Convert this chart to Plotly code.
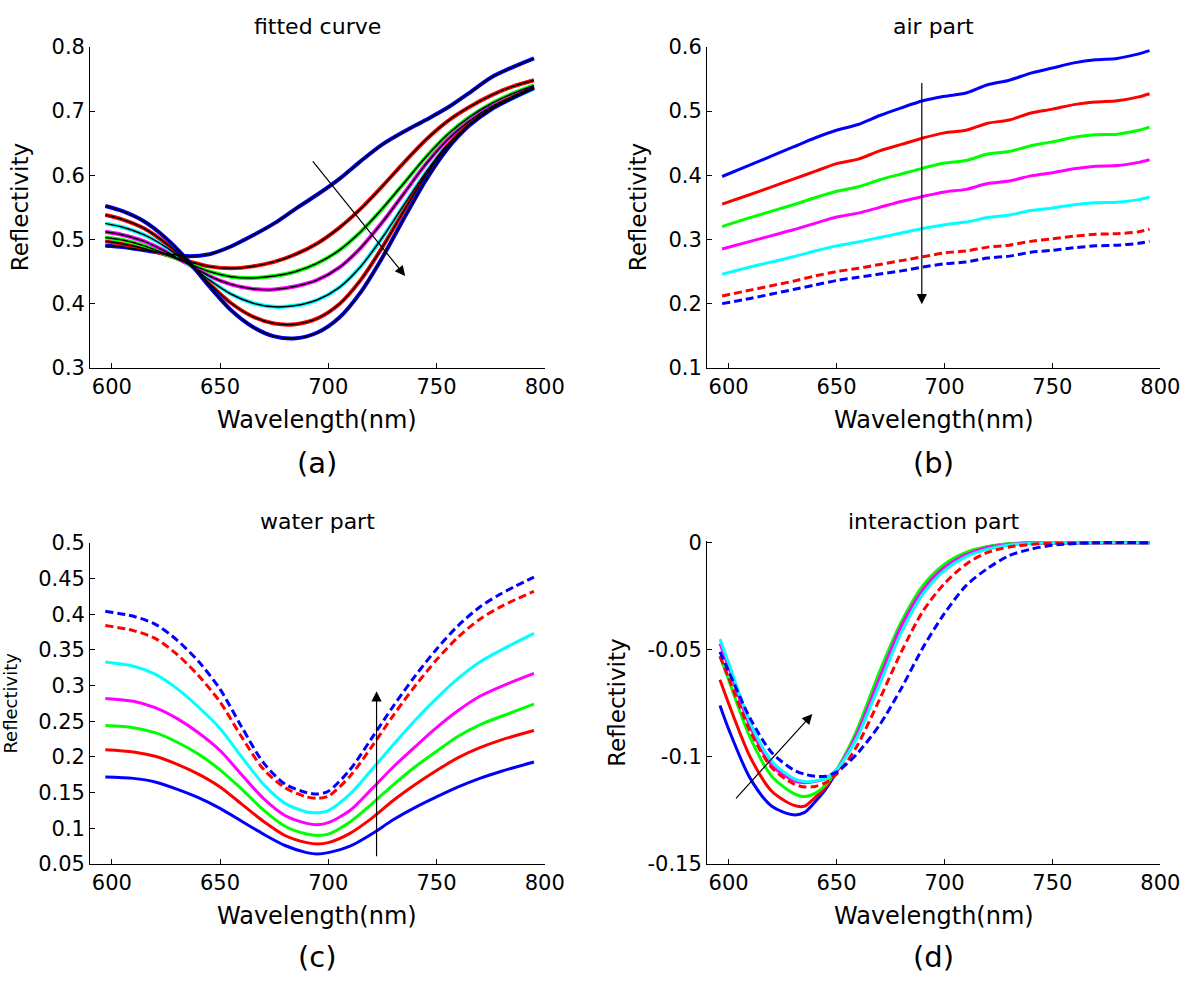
import plotly.graph_objects as go

# ---------------- data ----------------
# (a) fitted curve: measured spectra (colored) and fitted curves (black)
WL_A = [597, 605, 615, 625, 635, 645, 655, 665, 675, 685, 695, 705, 715, 725, 735, 745, 755, 765, 775, 785, 795]
A_1 = [0.490, 0.488, 0.483, 0.478, 0.474, 0.477, 0.489, 0.506, 0.525, 0.548, 0.570, 0.594, 0.622, 0.648, 0.668, 0.686, 0.705, 0.728, 0.752, 0.768, 0.782]
A_2 = [0.497, 0.493, 0.486, 0.476, 0.466, 0.458, 0.455, 0.458, 0.465, 0.477, 0.494, 0.518, 0.548, 0.583, 0.620, 0.655, 0.684, 0.706, 0.724, 0.738, 0.748]
A_3 = [0.503, 0.499, 0.490, 0.477, 0.463, 0.450, 0.442, 0.440, 0.443, 0.450, 0.463, 0.483, 0.512, 0.548, 0.588, 0.628, 0.663, 0.690, 0.711, 0.727, 0.740]
A_4 = [0.512, 0.507, 0.497, 0.481, 0.462, 0.443, 0.430, 0.423, 0.422, 0.427, 0.437, 0.456, 0.487, 0.527, 0.572, 0.617, 0.655, 0.684, 0.706, 0.722, 0.737]
A_5 = [0.525, 0.519, 0.507, 0.488, 0.463, 0.437, 0.415, 0.401, 0.395, 0.397, 0.406, 0.425, 0.458, 0.503, 0.554, 0.604, 0.647, 0.679, 0.703, 0.720, 0.735]
A_6 = [0.538, 0.531, 0.517, 0.494, 0.465, 0.431, 0.401, 0.380, 0.369, 0.368, 0.377, 0.399, 0.437, 0.488, 0.545, 0.600, 0.646, 0.679, 0.703, 0.721, 0.737]
A_7 = [0.552, 0.544, 0.528, 0.502, 0.468, 0.427, 0.390, 0.364, 0.349, 0.346, 0.355, 0.378, 0.418, 0.472, 0.533, 0.592, 0.641, 0.677, 0.702, 0.720, 0.736]

# (b) air part
WL_B = [597, 610, 620, 630, 640, 650, 660, 670, 680, 690, 700, 710, 720, 730, 740, 750, 760, 770, 780, 790, 795]
B_1 = [0.398, 0.416, 0.430, 0.444, 0.458, 0.470, 0.479, 0.493, 0.505, 0.516, 0.523, 0.528, 0.541, 0.548, 0.559, 0.567, 0.575, 0.580, 0.582, 0.589, 0.594]
B_2 = [0.355, 0.370, 0.382, 0.394, 0.406, 0.418, 0.425, 0.438, 0.448, 0.458, 0.466, 0.470, 0.481, 0.486, 0.497, 0.503, 0.510, 0.514, 0.516, 0.522, 0.527]
B_3 = [0.320, 0.334, 0.344, 0.354, 0.365, 0.375, 0.382, 0.393, 0.402, 0.411, 0.419, 0.423, 0.433, 0.437, 0.446, 0.452, 0.459, 0.463, 0.464, 0.470, 0.475]
B_4 = [0.285, 0.297, 0.306, 0.315, 0.325, 0.335, 0.341, 0.350, 0.359, 0.367, 0.374, 0.378, 0.387, 0.391, 0.399, 0.404, 0.410, 0.414, 0.415, 0.420, 0.424]
B_5 = [0.246, 0.257, 0.265, 0.273, 0.282, 0.290, 0.296, 0.303, 0.310, 0.317, 0.323, 0.327, 0.334, 0.338, 0.345, 0.349, 0.354, 0.357, 0.358, 0.362, 0.366]
B_6 = [0.212, 0.221, 0.228, 0.235, 0.243, 0.250, 0.255, 0.261, 0.267, 0.273, 0.279, 0.282, 0.288, 0.291, 0.297, 0.301, 0.305, 0.308, 0.309, 0.312, 0.316]
B_7 = [0.200, 0.208, 0.215, 0.222, 0.229, 0.236, 0.241, 0.246, 0.251, 0.257, 0.262, 0.265, 0.271, 0.274, 0.280, 0.283, 0.287, 0.290, 0.291, 0.294, 0.297]

# (c) water part
WL_C = [597, 610, 620, 630, 640, 650, 660, 670, 680, 690, 695, 700, 710, 720, 730, 740, 750, 760, 770, 780, 795]
C_1 = [0.172, 0.170, 0.165, 0.155, 0.143, 0.128, 0.110, 0.092, 0.076, 0.066, 0.064, 0.066, 0.075, 0.092, 0.112, 0.129, 0.144, 0.158, 0.170, 0.180, 0.193]
C_2 = [0.210, 0.207, 0.201, 0.190, 0.176, 0.158, 0.134, 0.110, 0.090, 0.080, 0.078, 0.080, 0.093, 0.114, 0.139, 0.161, 0.181, 0.199, 0.213, 0.224, 0.237]
C_3 = [0.244, 0.241, 0.234, 0.221, 0.204, 0.182, 0.155, 0.126, 0.103, 0.092, 0.090, 0.092, 0.109, 0.134, 0.161, 0.186, 0.208, 0.229, 0.245, 0.257, 0.274]
C_4 = [0.282, 0.278, 0.269, 0.254, 0.234, 0.209, 0.175, 0.142, 0.118, 0.107, 0.105, 0.108, 0.125, 0.155, 0.186, 0.214, 0.241, 0.265, 0.285, 0.299, 0.317]
C_5 = [0.333, 0.327, 0.316, 0.296, 0.270, 0.240, 0.200, 0.162, 0.135, 0.123, 0.122, 0.125, 0.148, 0.182, 0.217, 0.251, 0.282, 0.310, 0.333, 0.350, 0.373]
C_6 = [0.384, 0.377, 0.366, 0.344, 0.314, 0.277, 0.228, 0.183, 0.157, 0.144, 0.142, 0.145, 0.173, 0.214, 0.258, 0.299, 0.336, 0.368, 0.393, 0.411, 0.432]
C_7 = [0.404, 0.397, 0.386, 0.364, 0.334, 0.295, 0.242, 0.192, 0.162, 0.150, 0.148, 0.152, 0.182, 0.226, 0.271, 0.313, 0.351, 0.384, 0.410, 0.429, 0.452]

# (d) interaction part
WL_D = [596, 600, 610, 620, 630, 635, 640, 645, 650, 655, 660, 670, 680, 690, 700, 710, 720, 730, 740, 750, 770, 795]
D_1 = [-0.076, -0.087, -0.110, -0.123, -0.127, -0.126, -0.121, -0.115, -0.107, -0.098, -0.087, -0.061, -0.038, -0.021, -0.011, -0.005, -0.002, -0.0006, -0.0001, 0, 0, 0]
D_2 = [-0.064, -0.075, -0.100, -0.116, -0.1225, -0.123, -0.119, -0.114, -0.1065, -0.098, -0.087, -0.061, -0.038, -0.021, -0.011, -0.005, -0.002, -0.0006, -0.0001, 0, 0, 0]
D_3 = [-0.053, -0.064, -0.091, -0.109, -0.117, -0.1185, -0.117, -0.113, -0.106, -0.097, -0.086, -0.060, -0.037, -0.020, -0.010, -0.0045, -0.0018, -0.0005, -0.0001, 0, 0, 0]
D_4 = [-0.047, -0.058, -0.086, -0.104, -0.111, -0.112, -0.1115, -0.110, -0.106, -0.098, -0.088, -0.063, -0.039, -0.022, -0.0115, -0.0055, -0.0022, -0.0008, -0.0002, 0, 0, 0]
D_5 = [-0.045, -0.056, -0.084, -0.102, -0.110, -0.1115, -0.1112, -0.110, -0.106, -0.099, -0.090, -0.066, -0.042, -0.024, -0.013, -0.0065, -0.003, -0.001, -0.0003, 0, 0, 0]
D_6 = [-0.053, -0.063, -0.088, -0.105, -0.1125, -0.114, -0.1138, -0.112, -0.108, -0.102, -0.094, -0.073, -0.051, -0.032, -0.019, -0.010, -0.0045, -0.002, -0.0008, -0.0002, 0, 0]
D_7 = [-0.051, -0.060, -0.082, -0.098, -0.106, -0.108, -0.109, -0.109, -0.107, -0.103, -0.098, -0.085, -0.068, -0.049, -0.033, -0.020, -0.012, -0.006, -0.003, -0.0012, 0, 0]

X_TICKS = [600, 650, 700, 750, 800]
Y_TICKS_A = [0.3, 0.4, 0.5, 0.6, 0.7, 0.8]
Y_TICKS_B = [0.1, 0.2, 0.3, 0.4, 0.5, 0.6]
Y_TICKS_C = [0.05, 0.1, 0.15, 0.2, 0.25, 0.3, 0.35, 0.4, 0.45, 0.5]
Y_TICKS_D = [-0.15, -0.1, -0.05, 0]
Y_TICKTEXT_D = ["-0.15", "-0.1", "-0.05", "0"]

TITLES = ["fitted curve", "air part", "water part", "interaction part"]
PANEL_LABELS = ["(a)", "(b)", "(c)", "(d)"]
X_TITLE = "Wavelength(nm)"
Y_TITLE = "Reflectivity"

# ---------------- styles ----------------
BLUE, RED, GREEN, MAG, CYAN = "#0000ff", "#ff0000", "#00ff00", "#ff00ff", "#00ffff"
COLORS = [BLUE, RED, GREEN, MAG, CYAN, RED, BLUE]
DASHES = ["solid", "solid", "solid", "solid", "solid", "8px,4px", "8px,4px"]
FONT = "DejaVu Sans"
W, H = 1200, 987

def px_x(p):
    return p / W

def px_y(p):
    return 1 - p / H

fig = go.Figure()

def add_lines(xs, series, xa, ya, width=3, dashes=DASHES):
    for i, ys in enumerate(series):
        fig.add_trace(go.Scatter(x=xs, y=ys, mode="lines", xaxis=xa, yaxis=ya,
                                 line=dict(color=COLORS[i], width=width, dash=dashes[i],
                                           shape="spline", smoothing=0.8),
                                 showlegend=False, hoverinfo="skip"))

# (a): measured (colored) + fitted (black)
series_a = [A_1, A_2, A_3, A_4, A_5, A_6, A_7]
add_lines(WL_A, series_a, "x", "y", width=4, dashes=["solid"] * 7)
for ys in series_a:
    fig.add_trace(go.Scatter(x=WL_A, y=ys, mode="lines", xaxis="x", yaxis="y",
                             line=dict(color="black", width=1.5, shape="spline", smoothing=0.8),
                             showlegend=False, hoverinfo="skip"))
add_lines(WL_B, [B_1, B_2, B_3, B_4, B_5, B_6, B_7], "x2", "y2")
add_lines(WL_C, [C_1, C_2, C_3, C_4, C_5, C_6, C_7], "x3", "y3")
add_lines(WL_D, [D_1, D_2, D_3, D_4, D_5, D_6, D_7], "x4", "y4")

# ---------------- axes ----------------
XD_L = [px_x(91.7), px_x(554)]
XD_R = [px_x(719), px_x(1180)]
YD_T = [px_y(364.7), px_y(35.7)]
YD_B = [px_y(873.3), px_y(544)]
YD_D = [px_y(873.3), px_y(542.2)]

axis_common = dict(showline=True, linecolor="black", linewidth=1, mirror=False,
                   ticks="inside", ticklen=5, tickwidth=1, tickcolor="black",
                   showgrid=False, zeroline=False,
                   tickfont=dict(family=FONT, size=21, color="black"))

xcommon = dict(axis_common, range=[590, 800], tickvals=X_TICKS)
fig.update_layout(
    xaxis=dict(xcommon, domain=XD_L, anchor="y"),
    xaxis2=dict(xcommon, domain=XD_R, anchor="y2"),
    xaxis3=dict(xcommon, domain=XD_L, anchor="y3"),
    xaxis4=dict(xcommon, domain=XD_R, anchor="y4"),
    yaxis=dict(axis_common, domain=YD_T, anchor="x", range=[0.3, 0.8], tickvals=Y_TICKS_A),
    yaxis2=dict(axis_common, domain=YD_T, anchor="x2", range=[0.1, 0.6], tickvals=Y_TICKS_B),
    yaxis3=dict(axis_common, domain=YD_B, anchor="x3", range=[0.05, 0.5], tickvals=Y_TICKS_C),
    yaxis4=dict(axis_common, domain=YD_D, anchor="x4", range=[-0.15, 0.0008],
                tickvals=Y_TICKS_D, ticktext=Y_TICKTEXT_D),
)

# ---------------- text ----------------
ann = []
def text(x, y, s, size, angle=0):
    ann.append(dict(x=px_x(x), y=px_y(y), xref="paper", yref="paper", text=s,
                    showarrow=False, xanchor="center", yanchor="middle", textangle=angle,
                    font=dict(family=FONT, size=size, color="black")))

cx_l, cx_r = (91.7 + 554) / 2, (719 + 1180) / 2
text(cx_l, 15, TITLES[0], 22)
text(cx_r, 15, TITLES[1], 22)
text(cx_l, 522, TITLES[2], 22)
text(cx_r, 522, TITLES[3], 22)
text(cx_l, 418, X_TITLE, 24)
text(cx_r, 418, X_TITLE, 24)
text(cx_l, 927, X_TITLE, 24)
text(cx_r, 927, X_TITLE, 24)
text(cx_l, 462, PANEL_LABELS[0], 29)
text(cx_r, 462, PANEL_LABELS[1], 29)
text(cx_l, 969, PANEL_LABELS[2], 29)
text(cx_r, 969, PANEL_LABELS[3], 29)
text(20.5, 200, Y_TITLE, 23, -90)
text(649, 200, Y_TITLE, 23, -90)
text(11, 708, Y_TITLE, 18, -90)
text(627.5, 708, Y_TITLE, 23, -90)

# arrows (tip, tail) in data coordinates
def arrow(xa, ya, tip, tail):
    ann.append(dict(x=tip[0], y=tip[1], ax=tail[0], ay=tail[1], xref=xa, yref=ya,
                    axref=xa, ayref=ya, text="", showarrow=True, arrowhead=2,
                    arrowsize=1.7, arrowwidth=1.2, arrowcolor="black"))

arrow("x", "y", (735.5, 0.443), (692.3, 0.624))
arrow("x2", "y2", (689.5, 0.199), (689.5, 0.546))
arrow("x3", "y3", (722.3, 0.292), (722.3, 0.059))
arrow("x4", "y4", (638.8, -0.080), (602.8, -0.120))

fig.update_layout(annotations=ann, width=W, height=H,
                  margin=dict(l=0, r=0, t=0, b=0),
                  paper_bgcolor="white", plot_bgcolor="white", showlegend=False)

fig.write_html("out.html", config={"displayModeBar": False},
               post_script="document.body.style.margin='0px';document.body.style.overflow='hidden';")
